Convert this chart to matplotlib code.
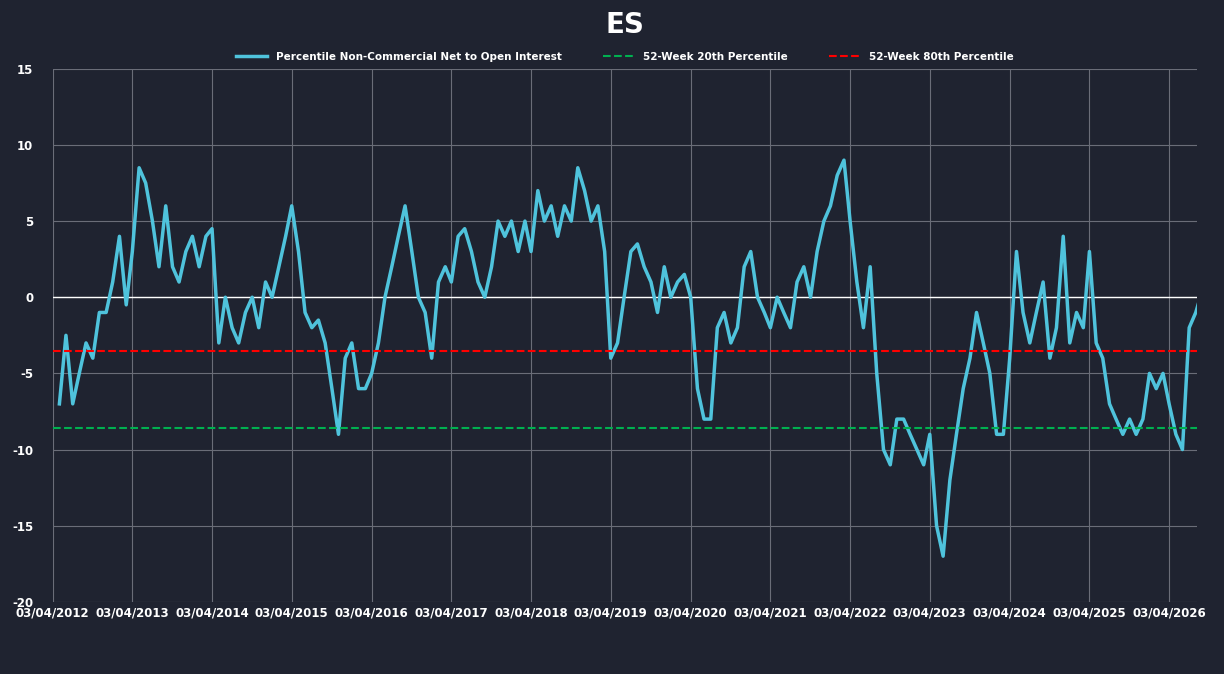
import matplotlib.pyplot as plt
import matplotlib
import matplotlib.dates as mdates
import pandas as pd

matplotlib.rcParams['font.family'] = 'DejaVu Sans'
matplotlib.rcParams['axes.unicode_minus'] = False

# ── 数据 ──────────────────────────────────────────
start = "2012-03-04"
values = [
    -7, -2.5, -7, -5, -3, -4, -1, -1, 1, 4,                     # 2012
    -0.5, 3, 8.5, 7.5, 5, 2, 6, 2, 1, 3, 4, 2,                  # 2013
    4, 4.5, -3, 0, -2, -3, -1, 0, -2, 1, 0, 2,                  # 2014
    4, 6, 3, -1, -2, -1.5, -3, -6, -9, -4, -3, -6,              # 2015
    -6, -5, -3, 0, 2, 4, 6, 3, 0, -1, -4, 1,                    # 2016
    2, 1, 4, 4.5, 3, 1, 0, 2, 5, 4, 5, 3,                       # 2017
    5, 3, 7, 5, 6, 4, 6, 5, 8.5, 7, 5, 6,                       # 2018
    3, -4, -3, 0, 3, 3.5, 2, 1, -1, 2, 0, 1,                    # 2019
    1.5, 0, -6, -8, -8, -2, -1, -3, -2, 2, 3, 0,                # 2020
    -1, -2, 0, -1, -2, 1, 2, 0, 3, 5, 6, 8,                     # 2021
    9, 5, 1, -2, 2, -5, -10, -11, -8, -8, -9, -10,              # 2022
    -11, -9, -15, -17, -12, -9, -6, -4, -1, -3, -5, -9,         # 2023
    -9, -4, 3, -1, -3, -1, 1, -4, -2, 4, -3, -1,                # 2024
    -2, 3, -3, -4, -7, -8, -9, -8, -9, -8, -5, -6,              # 2025
    -5, -7, -9, -10, -2, -1, 0.5,                               # 2026
]
dates = pd.date_range(start, periods=len(values), freq="MS") + pd.Timedelta(days=3)
p20 = -8.6
p80 = -3.5
tick_dates = [pd.Timestamp(f"{y}-03-04") for y in range(2012, 2027)]

# ── 画图 ──────────────────────────────────────────
bg = '#1f2330'
fig, ax = plt.subplots(figsize=(12.24, 6.74), dpi=100)
fig.patch.set_facecolor(bg)
ax.set_facecolor(bg)

ax.plot(dates, values, color='#4fc3dc', linewidth=2.5,
        label='Percentile Non-Commercial Net to Open Interest')
ax.axhline(p20, color='#00b050', linestyle='--', linewidth=1.5, label='52-Week 20th Percentile')
ax.axhline(p80, color='#ff0000', linestyle='--', linewidth=1.5, label='52-Week 80th Percentile')
ax.axhline(0, color='white', linewidth=1, zorder=1)

ax.set_ylim(-20, 15)
ax.set_yticks(range(-20, 16, 5))
ax.set_xlim(tick_dates[0], pd.Timestamp("2026-07-10"))
ax.set_xticks(tick_dates)
ax.xaxis.set_major_formatter(mdates.DateFormatter('%m/%d/%Y'))
ax.grid(color='#6a6d78', linewidth=0.8)
ax.set_axisbelow(True)
for s in ax.spines.values():
    s.set_visible(False)
ax.tick_params(colors='white', length=0, labelsize=8.5)
ax.tick_params(axis='y', pad=14)
for lbl in ax.get_xticklabels() + ax.get_yticklabels():
    lbl.set_fontweight('bold')

ax.set_title('ES', color='white', fontsize=20, fontweight='bold', pad=26)
leg = ax.legend(loc='lower center', bbox_to_anchor=(0.5, 0.995), ncol=3, frameon=False,
                fontsize=7.5, handlelength=3, columnspacing=4)
for t in leg.get_texts():
    t.set_color('white')
    t.set_fontweight('bold')

plt.subplots_adjust(left=0.043, right=0.978, top=0.898, bottom=0.107)
plt.savefig("out.png", dpi=100, facecolor=bg)
plt.close()
